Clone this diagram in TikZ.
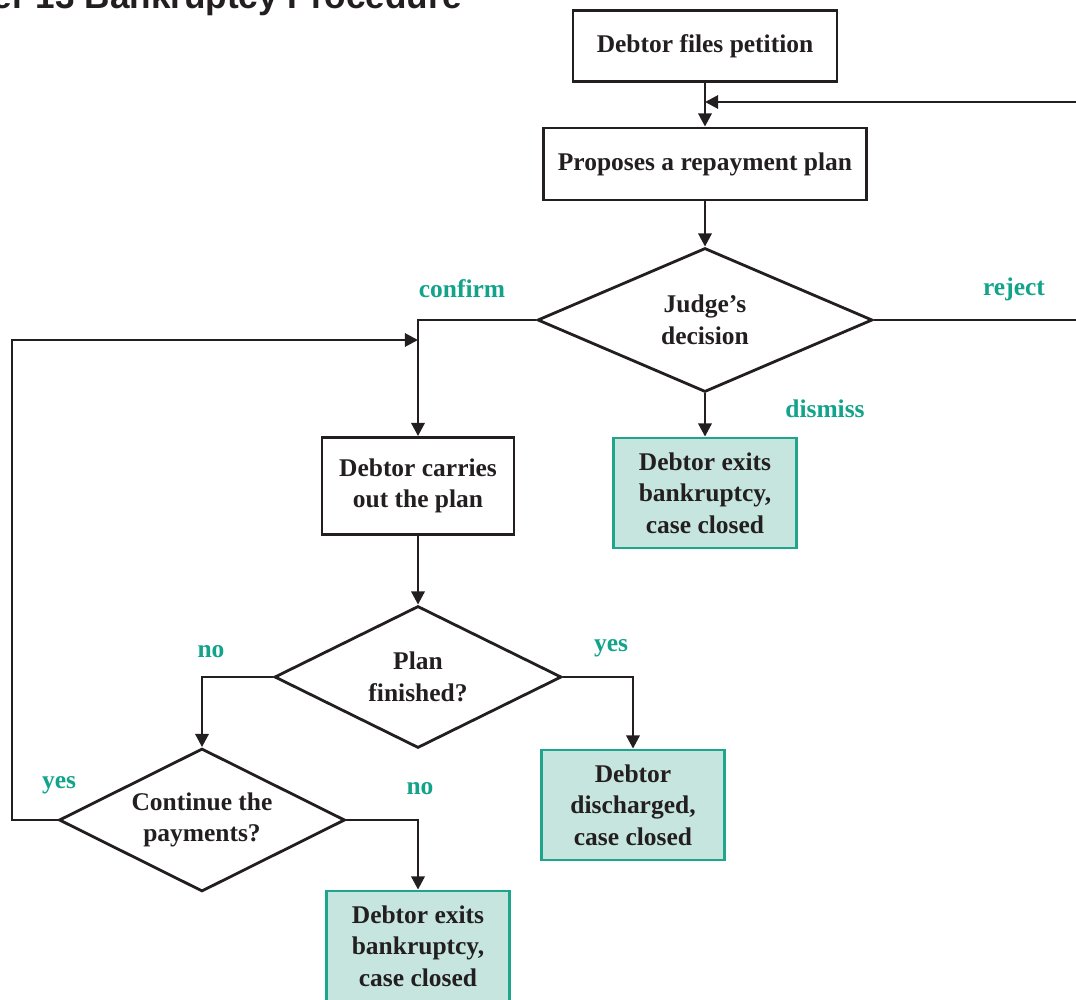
\documentclass[tikz,border=0pt]{standalone}
\usepackage{fontspec}
\usepackage{xcolor}
\usepackage{tikz}
\usetikzlibrary{shapes.geometric, arrows.meta}
\setmainfont{Liberation Serif}
\newfontfamily\titlefont{Liberation Sans}

\definecolor{linedark}{HTML}{231F20}
\definecolor{labelgreen}{HTML}{12A38A}
\definecolor{closedfill}{HTML}{C6E5DE}
\definecolor{closededge}{HTML}{1FA58C}

\begin{document}
\begin{tikzpicture}[x=0.02cm, y=-0.02cm,
    every node/.style={font=\fontsize{14.5}{18}\selectfont\bfseries, text=linedark},
    box/.style={draw=linedark, line width=1.6pt, align=center, inner sep=2pt},
    endbox/.style={draw=closededge, fill=closedfill, line width=1.6pt, align=center, inner sep=2pt,
                   minimum width=3.66cm, minimum height=2.2cm},
    decision/.style={diamond, aspect=2, draw=linedark, line width=1.6pt, align=center, inner sep=0pt},
    lbl/.style={text=labelgreen},
    arr/.style={draw=linedark, line width=1.6pt, -{Triangle[length=7.5pt,width=7.5pt]}}]
            % frame
            \useasboundingbox (0,0) rectangle (1076,1000);
            \clip (0,0) rectangle (1076,1000);

            % title (cut off at the top)
            \node[font=\titlefont\fontsize{20}{24}\selectfont\bfseries, anchor=base east, inner sep=0pt] (title) at (462,9) {Chapter 13 Bankruptcy Procedure};

            % boxes
            \node[box, minimum width=5.28cm, minimum height=1.42cm] (petition) at (705,46) {Debtor files petition};
            \node[box, minimum width=6.46cm, minimum height=1.44cm] (repay) at (705,164) {Proposes a repayment plan};
            \node[decision, minimum width=6.7cm, minimum height=2.88cm] (judge) at (705,320) {Judge's\\decision};
            \node[box, minimum width=3.84cm, minimum height=1.94cm] (carry) at (418,486) {Debtor carries\\out the plan};
            \node[endbox] (dismissed) at (705,493) {Debtor exits\\bankruptcy,\\case closed};
            \node[decision, minimum width=5.74cm, minimum height=2.84cm] (finished) at (418,677) {Plan\\finished?};
            \node[endbox] (discharged) at (633,805) {Debtor\\discharged,\\case closed};
            \node[decision, minimum width=5.72cm, minimum height=2.86cm] (continue) at (202,820) {Continue the\\payments?};
            \node[endbox] (exits) at (418,946) {Debtor exits\\bankruptcy,\\case closed};

            % helper points
            \coordinate (rejoin) at (705,102);
            \coordinate (offright) at (1100,320);
            \coordinate (loopin) at (418,340);
            \coordinate (loopcorner) at (12,820);

            % connectors
            \draw[arr] (petition) -- (repay);
            \draw[arr] (repay) -- (judge);
            \draw[arr] (judge.east) -- (offright) |- (rejoin);
            \draw[arr] (judge.west) -| (carry);
            \draw[arr] (judge) -- (dismissed);
            \draw[arr] (carry) -- (finished);
            \draw[arr] (finished.west) -| (continue);
            \draw[arr] (finished.east) -| (discharged);
            \draw[arr] (continue.east) -| (exits);
            \draw[arr] (continue.west) -- (loopcorner) |- (loopin);

            % labels
            \node[lbl] (confirmlbl) at (462,289) {confirm};
            \node[lbl] (rejectlbl) at (1014,289) {reject};
            \node[lbl] (dismisslbl) at (825,409) {dismiss};
            \node[lbl] (nolbl) at (211,652) {no};
            \node[lbl] (yeslbl) at (611,648) {yes};
            \node[lbl] (yesloop) at (59,785) {yes};
            \node[lbl] (nostop) at (420,789) {no};
        \end{tikzpicture}
\end{document}
